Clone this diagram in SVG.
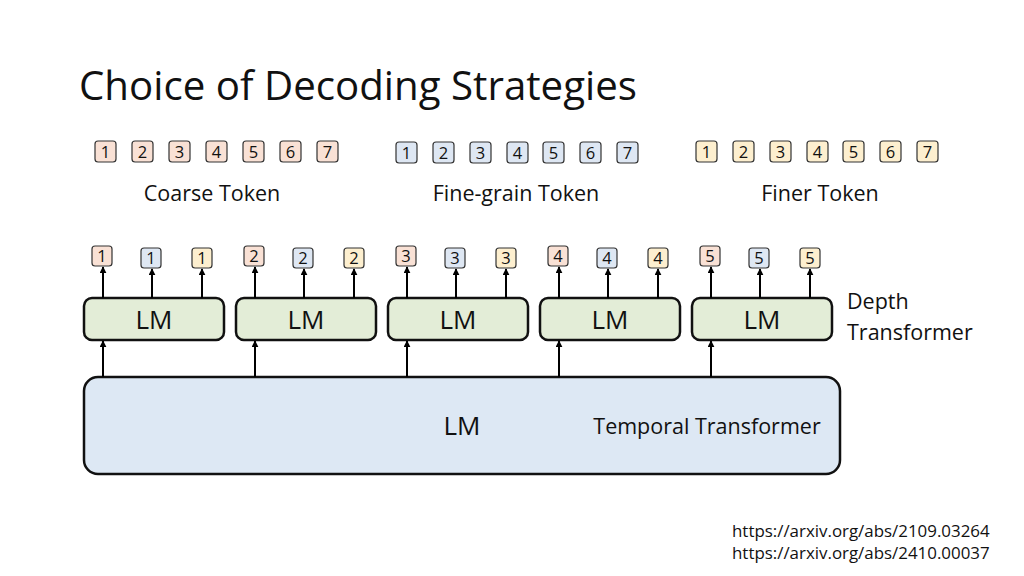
<svg xmlns="http://www.w3.org/2000/svg" width="1024" height="576" viewBox="0 0 1024 576">
<defs>
<marker id="ah" viewBox="0 0 10 10" refX="9" refY="5" markerWidth="3.5" markerHeight="3.5" orient="auto" markerUnits="strokeWidth">
<path d="M0,0 L10,5 L0,10 z" fill="#000"/>
</marker>
<style>
text{font-family:"Open Sans","Noto Sans","Liberation Sans",sans-serif;fill:#111}
.tk{stroke:#333;stroke-width:1.2}
.o{fill:#f9e1d5}.b{fill:#dee7f3}.y{fill:#fdefcf}
.tn{font-size:16.5px;text-anchor:middle}
.lbl{font-size:21.5px;text-anchor:middle}
.lm{fill:#e3edd7;stroke:#111;stroke-width:2.5}
.lmt{font-size:26px;text-anchor:middle}
.ar{stroke:#000;stroke-width:2;fill:none;marker-end:url(#ah)}
</style>
</defs>
<rect width="1024" height="576" fill="#fff"/>
<text x="79" y="100" font-size="40" textLength="558" lengthAdjust="spacingAndGlyphs">Choice of Decoding Strategies</text>

<g id="coarse-tokens">
<rect class="tk o" x="95" y="141" width="21" height="21" rx="3"/><text class="tn" x="105.5" y="157.5">1</text>
<rect class="tk o" x="132" y="141" width="21" height="21" rx="3"/><text class="tn" x="142.5" y="157.5">2</text>
<rect class="tk o" x="169" y="141" width="21" height="21" rx="3"/><text class="tn" x="179.5" y="157.5">3</text>
<rect class="tk o" x="206" y="141" width="21" height="21" rx="3"/><text class="tn" x="216.5" y="157.5">4</text>
<rect class="tk o" x="243" y="141" width="21" height="21" rx="3"/><text class="tn" x="253.5" y="157.5">5</text>
<rect class="tk o" x="280" y="141" width="21" height="21" rx="3"/><text class="tn" x="290.5" y="157.5">6</text>
<rect class="tk o" x="317" y="141" width="21" height="21" rx="3"/><text class="tn" x="327.5" y="157.5">7</text>
<text class="lbl" x="212" y="201">Coarse Token</text>
</g>
<g id="fine-tokens">
<rect class="tk b" x="396" y="142" width="21" height="21" rx="3"/><text class="tn" x="406.5" y="158.5">1</text>
<rect class="tk b" x="433" y="142" width="21" height="21" rx="3"/><text class="tn" x="443.5" y="158.5">2</text>
<rect class="tk b" x="470" y="142" width="21" height="21" rx="3"/><text class="tn" x="480.5" y="158.5">3</text>
<rect class="tk b" x="507" y="142" width="21" height="21" rx="3"/><text class="tn" x="517.5" y="158.5">4</text>
<rect class="tk b" x="543" y="142" width="21" height="21" rx="3"/><text class="tn" x="553.5" y="158.5">5</text>
<rect class="tk b" x="580" y="142" width="21" height="21" rx="3"/><text class="tn" x="590.5" y="158.5">6</text>
<rect class="tk b" x="617" y="142" width="21" height="21" rx="3"/><text class="tn" x="627.5" y="158.5">7</text>
<text class="lbl" x="516" y="201">Fine-grain Token</text>
</g>
<g id="finer-tokens">
<rect class="tk y" x="696" y="141" width="21" height="21" rx="3"/><text class="tn" x="706.5" y="157.5">1</text>
<rect class="tk y" x="733" y="141" width="21" height="21" rx="3"/><text class="tn" x="743.5" y="157.5">2</text>
<rect class="tk y" x="770" y="141" width="21" height="21" rx="3"/><text class="tn" x="780.5" y="157.5">3</text>
<rect class="tk y" x="807" y="141" width="21" height="21" rx="3"/><text class="tn" x="817.5" y="157.5">4</text>
<rect class="tk y" x="843" y="141" width="21" height="21" rx="3"/><text class="tn" x="853.5" y="157.5">5</text>
<rect class="tk y" x="880" y="141" width="21" height="21" rx="3"/><text class="tn" x="890.5" y="157.5">6</text>
<rect class="tk y" x="917" y="141" width="21" height="21" rx="3"/><text class="tn" x="927.5" y="157.5">7</text>
<text class="lbl" x="820" y="201">Finer Token</text>
</g>

<g id="temporal">
<rect x="84" y="377" width="756" height="97" rx="14" fill="#dde8f4" stroke="#111" stroke-width="2.5"/>
<text x="462" y="435" font-size="26" text-anchor="middle">LM</text>
<text x="707" y="434" font-size="21.5" text-anchor="middle">Temporal Transformer</text>
</g>

<g id="lm1"><rect class="lm" x="84" y="298" width="140" height="42" rx="8"/><text class="lmt" x="154" y="329">LM</text></g>
<g id="lm2"><rect class="lm" x="236" y="298" width="140" height="42" rx="8"/><text class="lmt" x="306" y="329">LM</text></g>
<g id="lm3"><rect class="lm" x="388" y="298" width="140" height="42" rx="8"/><text class="lmt" x="458" y="329">LM</text></g>
<g id="lm4"><rect class="lm" x="540" y="298" width="140" height="42" rx="8"/><text class="lmt" x="610" y="329">LM</text></g>
<g id="lm5"><rect class="lm" x="692" y="298" width="140" height="42" rx="8"/><text class="lmt" x="762" y="329">LM</text></g>

<g id="depth-label">
<text x="847" y="309" font-size="21.5">Depth</text>
<text x="847" y="340" font-size="21.5">Transformer</text>
</g>

<g id="outputs">
<rect class="tk o" x="92" y="246" width="20" height="20" rx="3"/><text class="tn" x="102" y="262">1</text>
<rect class="tk b" x="141" y="248" width="20" height="20" rx="3"/><text class="tn" x="151" y="264">1</text>
<rect class="tk y" x="192" y="248" width="20" height="20" rx="3"/><text class="tn" x="202" y="264">1</text>
<rect class="tk o" x="244" y="246" width="20" height="20" rx="3"/><text class="tn" x="254" y="262">2</text>
<rect class="tk b" x="293" y="248" width="20" height="20" rx="3"/><text class="tn" x="303" y="264">2</text>
<rect class="tk y" x="344" y="248" width="20" height="20" rx="3"/><text class="tn" x="354" y="264">2</text>
<rect class="tk o" x="396" y="246" width="20" height="20" rx="3"/><text class="tn" x="406" y="262">3</text>
<rect class="tk b" x="445" y="248" width="20" height="20" rx="3"/><text class="tn" x="455" y="264">3</text>
<rect class="tk y" x="496" y="248" width="20" height="20" rx="3"/><text class="tn" x="506" y="264">3</text>
<rect class="tk o" x="548" y="246" width="20" height="20" rx="3"/><text class="tn" x="558" y="262">4</text>
<rect class="tk b" x="597" y="248" width="20" height="20" rx="3"/><text class="tn" x="607" y="264">4</text>
<rect class="tk y" x="648" y="248" width="20" height="20" rx="3"/><text class="tn" x="658" y="264">4</text>
<rect class="tk o" x="700" y="246" width="20" height="20" rx="3"/><text class="tn" x="710" y="262">5</text>
<rect class="tk b" x="749" y="248" width="20" height="20" rx="3"/><text class="tn" x="759" y="264">5</text>
<rect class="tk y" x="800" y="248" width="20" height="20" rx="3"/><text class="tn" x="810" y="264">5</text>
</g>

<g id="connectors">
<line class="ar" x1="103" y1="377" x2="103" y2="341"/>
<line class="ar" x1="255" y1="377" x2="255" y2="341"/>
<line class="ar" x1="407" y1="377" x2="407" y2="341"/>
<line class="ar" x1="559" y1="377" x2="559" y2="341"/>
<line class="ar" x1="711" y1="377" x2="711" y2="341"/>
<line class="ar" x1="103" y1="298" x2="103" y2="267"/>
<line class="ar" x1="152" y1="298" x2="152" y2="269"/>
<line class="ar" x1="202" y1="298" x2="202" y2="269"/>
<line class="ar" x1="255" y1="298" x2="255" y2="267"/>
<line class="ar" x1="304" y1="298" x2="304" y2="269"/>
<line class="ar" x1="354" y1="298" x2="354" y2="269"/>
<line class="ar" x1="407" y1="298" x2="407" y2="267"/>
<line class="ar" x1="456" y1="298" x2="456" y2="269"/>
<line class="ar" x1="506" y1="298" x2="506" y2="269"/>
<line class="ar" x1="559" y1="298" x2="559" y2="267"/>
<line class="ar" x1="608" y1="298" x2="608" y2="269"/>
<line class="ar" x1="658" y1="298" x2="658" y2="269"/>
<line class="ar" x1="711" y1="298" x2="711" y2="267"/>
<line class="ar" x1="760" y1="298" x2="760" y2="269"/>
<line class="ar" x1="810" y1="298" x2="810" y2="269"/>
</g>

<g id="refs">
<text x="732" y="537" font-size="16.9">https://arxiv.org/abs/2109.03264</text>
<text x="732" y="559" font-size="16.9">https://arxiv.org/abs/2410.00037</text>
</g>
</svg>
